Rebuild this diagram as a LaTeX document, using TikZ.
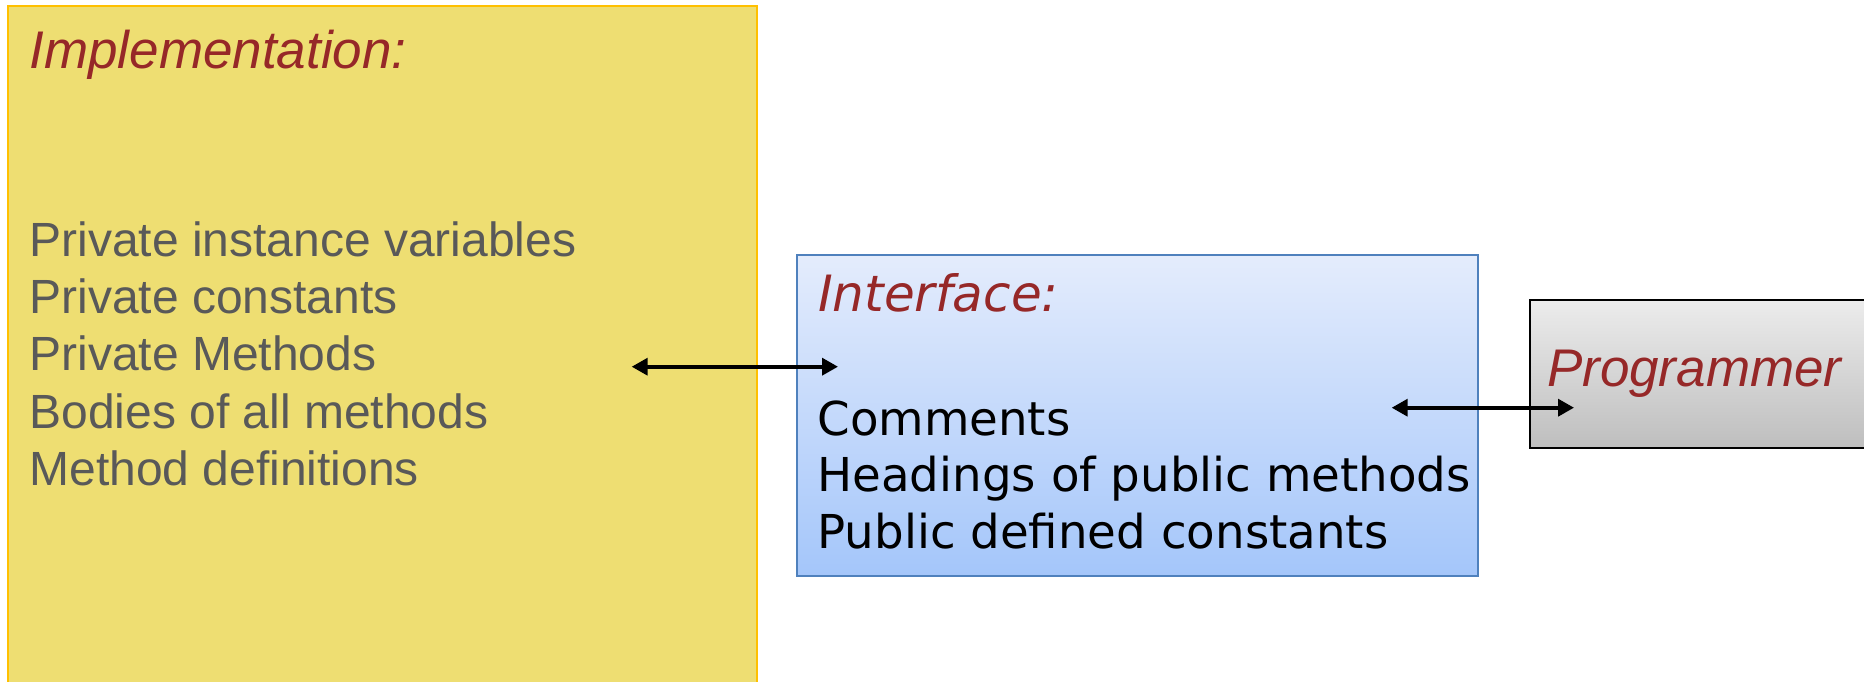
\documentclass[tikz,border=0pt]{standalone}
\usepackage{fontspec}
\setmainfont{Liberation Sans}
\newfontfamily\ifacefont{DejaVu Sans}
\usetikzlibrary{arrows.meta}

\definecolor{titlered}{RGB}{150,40,40}
\definecolor{bodygray}{RGB}{89,89,89}
\definecolor{implfill}{RGB}{238,222,114}
\definecolor{impldraw}{RGB}{255,192,0}
\definecolor{ifacedraw}{RGB}{79,129,189}
\definecolor{ifacetop}{RGB}{228,236,252}
\definecolor{ifacebot}{RGB}{164,198,250}
\definecolor{progtop}{RGB}{236,236,236}
\definecolor{progbot}{RGB}{190,190,190}

\begin{document}
\begin{tikzpicture}[x=0.5pt,y=-0.5pt,
  box/.style={draw, line width=1pt, inner sep=0pt, outer sep=0pt, anchor=north west},
  txt/.style={anchor=base west, inner sep=0pt, outer sep=0pt},
  heading/.style={txt, text=titlered, font=\fontsize{26.5}{31}\selectfont\itshape},
  impltext/.style={txt, text=bodygray, font=\fontsize{24}{28}\selectfont},
  ifacetext/.style={txt, text=black, font=\ifacefont\fontsize{23.35}{28}\selectfont},
  ifacehead/.style={txt, text=titlered, font=\ifacefont\fontsize{25}{29}\selectfont\itshape},
  link/.style={line width=1.8pt,
    {Triangle[length=8pt,width=8.5pt]}-{Triangle[length=8pt,width=8.5pt]}}
]
\clip (0,0) rectangle (1864,681);
\fill[white] (0,0) rectangle (1864,681);

% the three layers
\node[box, draw=impldraw, fill=implfill,
      minimum width=374.5pt, minimum height=360pt] (impl) at (8,6) {};
\node[box, draw=ifacedraw, top color=ifacetop, bottom color=ifacebot,
      minimum width=340.5pt, minimum height=160.5pt] (iface) at (797,255) {};
\node[box, draw=black, line width=1.2pt, top color=progtop, bottom color=progbot,
      minimum width=190pt, minimum height=74pt] (prog) at (1530,300) {};

% implementation contents
\node[heading] (implhead) at (29.5,68) {Implementation:};
\node[impltext] (impl1) at (29.5,256)   {Private instance variables};
\node[impltext] (impl2) at (29.5,313.3) {Private constants};
\node[impltext] (impl3) at (29.5,370.7) {Private Methods};
\node[impltext] (impl4) at (29.5,428)   {Bodies of all methods};
\node[impltext] (impl5) at (29.5,485.3) {Method definitions};

% interface contents
\node[ifacehead] (ifacehd) at (818,311) {Interface:};
\node[ifacetext] (iface1) at (817.5,435)   {Comments};
\node[ifacetext] (iface2) at (817.5,491.7) {Headings of public methods};
\node[ifacetext] (iface3) at (817.5,548.3) {Public defined constants};

% programmer
\node[heading] (proghd) at (1547,386.7) {Programmer};

% connections between the layers
\coordinate (implport)   at (631.7,366.7);
\coordinate (ifaceportL) at (838,366.7);
\coordinate (ifaceportR) at (1391.7,407.7);
\coordinate (progport)   at (1574,407.7);
\draw[link] (implport) -- (ifaceportL);
\draw[link] (ifaceportR) -- (progport);
\end{tikzpicture}
\end{document}
